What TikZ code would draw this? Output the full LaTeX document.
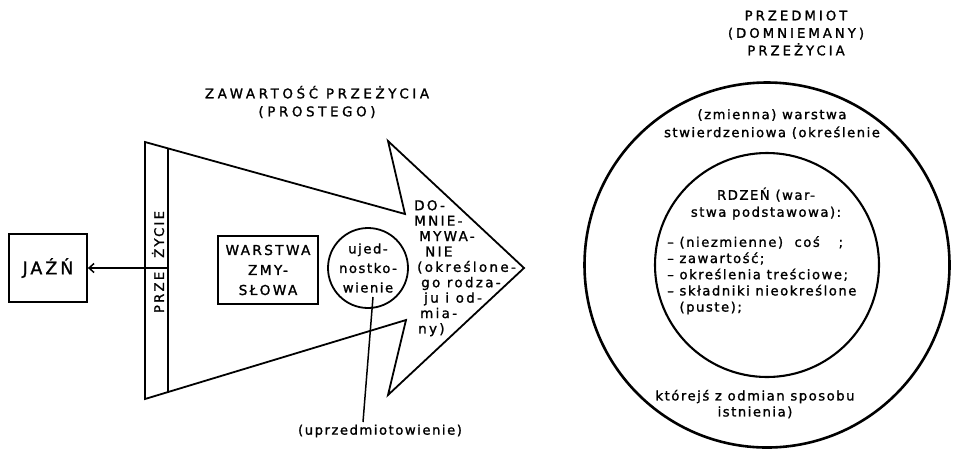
\documentclass[tikz,border=0pt]{standalone}
\usepackage{fontspec}
\setmainfont{DejaVu Sans}
\newfontfamily\bodyf[LetterSpace=11.5,FakeBold=1.4]{DejaVu Sans}
\newfontfamily\titlef[LetterSpace=23,FakeBold=1.4]{DejaVu Sans}
\newfontfamily\titlewf[LetterSpace=27,FakeBold=1.4]{DejaVu Sans}
\newfontfamily\boxf[LetterSpace=17,FakeBold=1.4]{DejaVu Sans}
\newfontfamily\domf[LetterSpace=17,FakeBold=1.4]{DejaVu Sans}
\usetikzlibrary{arrows.meta}
\begin{document}
\begin{tikzpicture}[x=1pt,y=1pt,
  ln/.style={line width=1.8pt, line join=miter},
  boxnode/.style={draw, line width=1.8pt, inner sep=0pt},
  ttl/.style={font=\titlef\fontsize{13.2}{18}\selectfont, align=center},
  txt/.style={font=\bodyf\fontsize{13.2}{16}\selectfont},
]
\useasboundingbox (0,0) rectangle (957,-451);

% left part
\node[boxnode, minimum width=78pt, minimum height=68pt,
      font=\boxf\fontsize{17.5}{20}\selectfont] (jazn) at (48,-268) {JAŹŃ};

\draw[ln] (145,-142) -- (405,-214) -- (388,-141) -- (524,-268) -- (388,-395)
          -- (406,-320) -- (145,-399) -- cycle;
\draw[ln] (168,-148.4) -- (168,-392);
\node[font=\boxf\fontsize{13.2}{16}\selectfont, rotate=90] (przez) at (158,-262) {PRZE\hspace{14pt}ŻYCIE};
\coordinate (stripmid) at (168,-268);
\draw[line width=1.5pt, -{Straight Barb[length=5pt,width=9pt]}] (stripmid) -- (jazn);

\node[boxnode, minimum width=100pt, minimum height=68pt, align=center,
      font=\boxf\fontsize{13.7}{20}\selectfont] (warstwa) at (268,-270) {WARSTWA\\ZMY-\\SŁOWA};

\node[circle, draw, line width=1.8pt, minimum size=80pt, inner sep=0pt, align=center,
      font=\bodyf\fontsize{13.2}{19.5}\selectfont] (ujed) at (368,-268) {ujed-\\nostko-\\wienie};

\node[align=left, anchor=north west, inner sep=0pt,
      font=\domf\fontsize{13.5}{15.4}\selectfont] (domn) at (414,-200)
  {DO-\\MNIE-\\\hspace*{5pt}MYWA-\\\hspace*{11pt}NIE\\\hspace*{3pt}(określone-\\\hspace*{7pt}go rodza-\\\hspace*{10pt}ju i od-\\\hspace*{6pt}mia-\\\hspace*{4pt}ny)};

\node[txt] (uprz) at (380,-431) {(uprzedmiotowienie)};
\coordinate (ujtail) at (373,-297);
\coordinate (uprztop) at (363,-422);
\draw[line width=1.5pt] (ujtail) -- (uprztop);

\node[ttl, font=\titlewf\fontsize{13.4}{18}\selectfont] (t1) at (317,-102) {ZAWARTOŚĆ PRZEŻYCIA\\(PROSTEGO)};

% right part
\node[ttl, font=\titlef\fontsize{13.2}{17.5}\selectfont] (t2) at (796,-33) {PRZEDMIOT\\(DOMNIEMANY)\\PRZEŻYCIA};

\node[circle, draw, line width=2.6pt, minimum size=365pt, inner sep=0pt] (outer) at (767,-265) {};
\node[circle, draw, line width=2.1pt, minimum size=224pt, inner sep=0pt] (inner) at (767,-265) {};

\node[txt, align=center, font=\bodyf\fontsize{13.2}{18}\selectfont] (zm) at (772,-124)
  {(zmienna) warstwa\\stwierdzeniowa (określenie};
\node[txt, align=center, font=\bodyf\fontsize{13.2}{17}\selectfont] (rdzen) at (766,-203.5)
  {RDZEŃ (war-\\stwa podstawowa):};
\node[align=left, anchor=north west, inner sep=0pt,
      font=\bodyf\fontsize{13.2}{16.2}\selectfont] (lista) at (667,-236)
  {– (niezmienne)\ \ coś\quad\ ;\\– zawartość;\\– określenia treściowe;\\– składniki nieokreślone\\\phantom{– }(puste);};
\node[txt, align=center] (ktor) at (755,-404) {którejś z odmian sposobu\\istnienia)};
\end{tikzpicture}
\end{document}
